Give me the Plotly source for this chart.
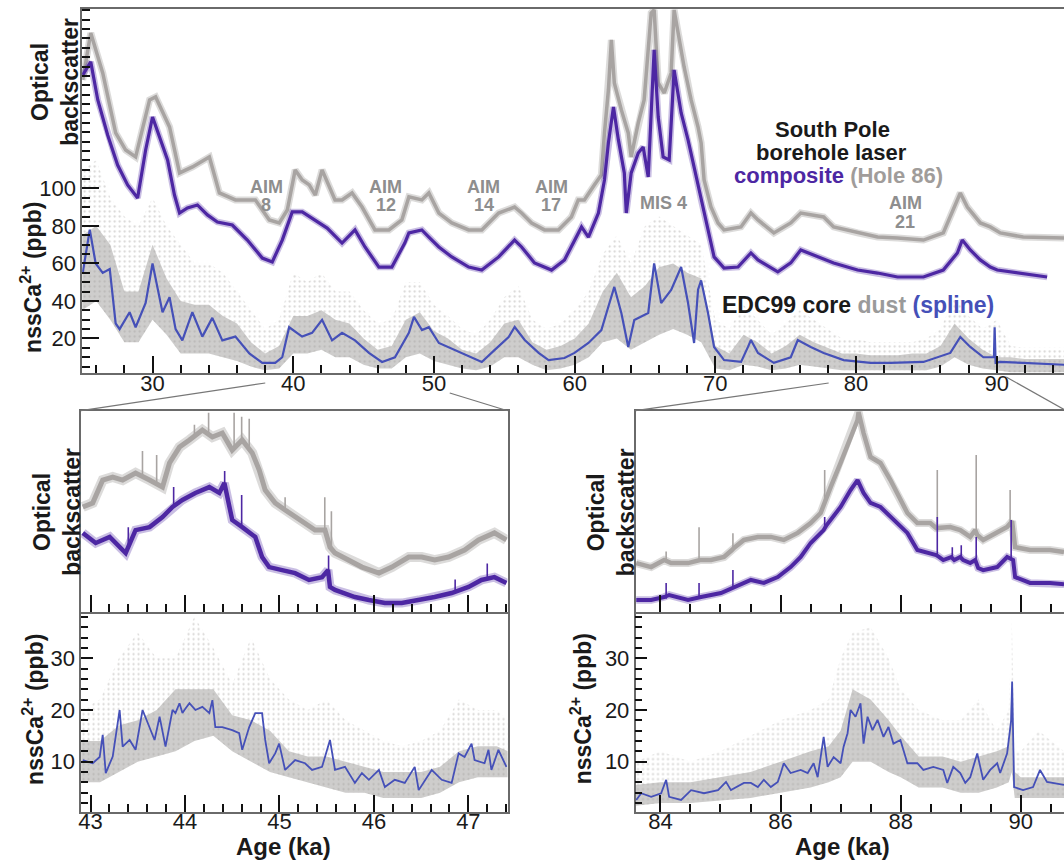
import plotly.graph_objects as go

# ======================= DATA =======================
# ---- Top panel (25-95 ka) ----
# EDC99 nssCa2+ spline (ppb)
top_spline_age = [25.04, 25.54, 25.96, 26.46, 26.96, 27.38, 27.66, 28.37, 28.80, 29.51, 30.00, 30.71, 31.21, 31.64, 32.12,
                  32.83, 33.54, 34.25, 34.96, 35.89, 36.88, 37.80, 38.72, 39.22, 39.71, 40.63, 41.34, 42.05, 42.76, 43.47,
                  44.39, 45.38, 46.31, 47.23, 48.22, 48.58, 49.15, 49.64, 50.35, 51.48, 52.69, 53.40, 54.32, 55.31, 55.74,
                  56.45, 57.44, 58.15, 59.28, 59.99, 60.98, 61.90, 62.39, 62.82, 63.32, 63.81, 64.24, 65.23, 65.65, 66.15,
                  66.86, 67.57, 68.06, 68.49, 68.77, 68.99, 69.48, 69.91, 70.62, 71.83, 72.32, 72.53, 73.03, 74.16, 75.36,
                  75.86, 76.78, 77.70, 79.12, 81.03, 82.45, 84.79, 86.70, 87.41, 88.12, 89.05, 89.80, 89.85, 89.92, 90.24,
                  91.87, 94.28, 94.80]
top_spline_ppb = [55, 78, 60, 55, 57, 28, 25, 34, 26, 39, 60, 34, 42, 25, 19,
                  34, 21, 31, 19, 21, 12, 7, 7, 10, 26, 21, 23, 30, 19, 23,
                  19, 12.3, 7.5, 10, 23, 31.5, 24.5, 26, 17.6, 13.9, 10.1, 7.5, 13.9, 20.8, 26.1,
                  19.2, 12.3, 8.5, 9.6, 12.3, 17.6, 24.5, 36.8, 47.5, 33.6, 15.5, 29.9, 33.6, 60, 38.9,
                  45.9, 58.1, 38.9, 17.6, 46, 51, 33.6, 15.5, 8.5, 7.5, 15.5, 19.2, 12.3, 7, 10,
                  19.2, 15.5, 12.3, 8.5, 7, 7, 7.5, 12.3, 20.8, 15.5, 10, 10, 26, 7, 7.5,
                  7, 6, 6]
# EDC99 dust cloud (ppb): dense band and sparse outliers
top_dust_age = list(range(25, 96))
top_dust_lo = [35, 40, 30, 18, 18, 30, 22, 12, 12, 12, 10, 8, 5, 3, 4, 12, 12, 14, 10, 10,
               6, 4, 4, 10, 12, 8, 6, 4, 3, 5, 10, 10, 6, 3, 4, 6, 10, 18, 20, 14,
               18, 22, 25, 22, 18, 4, 3, 6, 5, 3, 4, 6, 5, 4, 3, 3, 3, 3, 3, 3,
               3, 5, 10, 6, 4, 3, 2, 2, 2, 2, 2]
top_dust_hi = [75, 80, 70, 45, 45, 70, 52, 40, 38, 38, 32, 28, 18, 12, 16, 32, 32, 35, 30, 28,
               20, 14, 16, 30, 34, 24, 20, 14, 12, 18, 28, 30, 18, 14, 16, 20, 28, 45, 55, 42,
               48, 58, 60, 55, 52, 16, 12, 22, 18, 12, 16, 22, 18, 15, 12, 12, 11, 11, 11, 12,
               12, 16, 28, 20, 14, 10, 10, 9, 9, 9, 9]
top_dust_outer = [110, 115, 95, 85, 80, 95, 80, 70, 60, 60, 55, 45, 35, 25, 30, 55, 50, 55, 45, 45,
                  35, 28, 30, 50, 50, 38, 32, 25, 22, 30, 42, 48, 30, 25, 28, 35, 45, 65, 75, 60,
                  80, 85, 80, 75, 70, 30, 25, 38, 30, 22, 28, 35, 30, 25, 20, 20, 18, 18, 18, 18,
                  20, 25, 42, 32, 25, 30, 16, 15, 15, 15, 15]
# South Pole borehole laser composite (optical backscatter, arbitrary units)
top_comp_age = [25.04, 25.61, 26.11, 26.81, 27.52, 28.23, 28.94, 29.51, 30.00, 30.57, 31.07, 31.56, 31.92, 32.48, 33.19,
                33.90, 34.61, 35.67, 36.74, 37.80, 38.51, 39.22, 39.93, 40.64, 41.70, 42.41, 43.47, 44.39, 45.10, 46.09,
                47.01, 47.93, 48.22, 49.14, 49.64, 50.35, 51.27, 52.47, 53.40, 54.60, 55.73, 56.23, 57.15, 58.36, 59.28,
                59.99, 60.49, 60.98, 61.69, 62.12, 62.40, 62.76, 63.11, 63.53, 63.67, 64.02, 64.52, 64.87, 65.23, 65.65,
                65.94, 66.29, 66.72, 67.07, 67.57, 68.06, 68.49, 68.99, 69.48, 69.91, 70.62, 71.61, 72.53, 73.03, 74.44,
                75.36, 76.07, 77.28, 78.41, 80.11, 81.53, 82.95, 84.79, 86.20, 87.20, 87.55, 88.12, 88.83, 89.54, 90.04,
                91.45, 93.58]
top_comp_val = [160.5, 167.5, 147.2, 128.5, 112.5, 101.9, 94.9, 120.5, 138.1, 125.9, 115.2, 96.5, 86.9, 89.6, 91.2,
                85.9, 82.1, 80.5, 72.5, 62.9, 60.8, 72.5, 87.5, 87.5, 82.1, 78.9, 70.9, 77.9, 68.8, 58.1,
                58.1, 70.9, 76.3, 77.9, 74.1, 68.8, 63.5, 58.1, 56.5, 63.5, 72.5, 68.8, 60.3, 56.5, 61.9,
                72.5, 79.5, 74.1, 86.9, 104.5, 124.3, 143.5, 125.9, 108.3, 86.9, 108.3, 118.9, 122.1, 106.1, 173.9,
                138.1, 116.8, 115.2, 163.2, 140.3, 125.9, 111.5, 93.9, 77.9, 63.5, 57.6, 58.1, 65.6, 61.9, 55.5,
                60.3, 67.2, 63.5, 60.3, 56.5, 54.9, 52.8, 52.8, 56.5, 65.6, 72.5, 67.2, 61.9, 58.1, 56.5,
                54.9, 52.8]
# Hole 86 (optical backscatter, arbitrary units)
top_h86_age = [25.04, 25.61, 26.46, 27.38, 28.09, 28.80, 29.79, 30.22, 31.21, 31.92, 32.84, 34.04, 34.75, 35.89, 37.31,
               38.30, 39.01, 39.58, 40.14, 40.64, 41.14, 41.57, 42.05, 42.97, 43.47, 44.18, 44.89, 45.81, 46.80, 47.72,
               48.22, 49.14, 49.64, 50.35, 51.27, 52.47, 53.40, 54.60, 55.73, 56.23, 56.94, 57.86, 58.85, 59.77, 60.26,
               60.69, 61.40, 61.90, 62.12, 62.40, 62.61, 62.82, 63.32, 63.81, 64.02, 64.52, 64.94, 65.44, 65.65, 65.94,
               66.37, 66.86, 67.07, 67.36, 67.78, 68.28, 68.77, 68.99, 69.20, 69.69, 70.19, 70.62, 71.82, 72.53, 73.03,
               74.16, 75.36, 76.07, 77.70, 78.41, 80.11, 81.53, 82.95, 84.79, 86.20, 86.91, 87.41, 87.91, 88.83, 89.54,
               90.25, 91.88, 94.28, 94.78]
top_h86_val = [157.9, 182.9, 161.6, 129.6, 120.5, 116.8, 147.2, 148.8, 132.8, 108.3, 111.5, 116.8, 97.6, 93.9, 93.9,
               83.2, 81.6, 88.5, 109.9, 104.5, 101.9, 96.5, 109.9, 93.9, 93.9, 97.6, 90.1, 77.9, 77.9, 83.2,
               95.5, 93.9, 97.6, 86.9, 81.6, 77.9, 77.9, 86.9, 90.1, 86.9, 81.6, 77.9, 77.9, 84.8, 93.9,
               93.9, 101.9, 107.2, 129.6, 152.5, 179.2, 156.3, 141.9, 129.6, 116.8, 134.9, 147.2, 193.6, 195.2, 156.3,
               150.9, 161.6, 195.2, 182.9, 164.8, 147.2, 132.8, 124.3, 104.5, 90.1, 81.6, 77.9, 79.5, 86.9, 83.2,
               76.3, 81.6, 86.9, 84.8, 79.5, 76.3, 74.1, 73.6, 72.5, 76.3, 88.5, 97.6, 90.1, 81.6, 79.5,
               76.3, 74.1, 73.6, 73.6]

# ---- Bottom-left zoom (42.9-47.4 ka) ----
bl_h86_age = [42.918, 43.023, 43.129, 43.235, 43.340, 43.477, 43.625, 43.762, 43.836, 43.942,
              44.047, 44.184, 44.290, 44.395, 44.500, 44.606, 44.712, 44.786, 44.849, 44.955,
              45.060, 45.166, 45.271, 45.377, 45.482, 45.535, 45.588, 45.736, 45.873, 46.053,
              46.190, 46.369, 46.506, 46.643, 46.791, 46.960, 47.108, 47.276, 47.403]
bl_h86_val = [52.1, 54.1, 65.5, 67.0, 65.5, 69.0, 65.5, 62.0, 74.0, 81.9,
              85.4, 90.4, 86.9, 88.9, 80.4, 85.4, 79.0, 70.5, 60.5, 54.1,
              50.6, 47.1, 44.1, 40.6, 40.6, 32.1, 29.2, 25.7, 22.2, 19.2,
              22.2, 27.2, 27.2, 25.7, 27.2, 30.7, 35.7, 39.2, 35.7]
bl_comp_age = [42.918, 43.055, 43.203, 43.372, 43.477, 43.625, 43.762, 43.868, 43.973, 44.110,
               44.258, 44.364, 44.417, 44.500, 44.606, 44.744, 44.816, 44.891, 45.028, 45.166,
               45.313, 45.451, 45.514, 45.535, 45.588, 45.799, 45.947, 46.116, 46.295, 46.474,
               46.643, 46.823, 47.002, 47.139, 47.276, 47.403]
bl_comp_val = [39.2, 34.2, 37.2, 29.2, 40.6, 42.1, 47.1, 52.1, 55.6, 59.1,
               62.0, 59.1, 64.0, 45.6, 42.1, 37.2, 27.2, 22.2, 20.7, 19.2,
               15.8, 17.2, 20.7, 12.3, 10.8, 7.3, 5.8, 4.3, 4.3, 5.8,
               7.3, 9.3, 12.3, 15.8, 17.2, 14.3]
# thin spikes in the laser logs (age, base, top)
bl_h86_spk_age = [43.55, 43.70, 44.10, 44.25, 44.52, 44.60, 44.68, 45.06, 45.48, 45.55]
bl_h86_spk_base = [67, 64, 88, 88, 82, 84, 81, 50, 40, 32]
bl_h86_spk_top = [80, 78, 93, 99, 99, 97, 96, 57, 57, 50]
bl_comp_spk_age = [43.40, 43.88, 44.42, 44.60, 45.52, 46.86, 47.20]
bl_comp_spk_base = [33, 52, 63, 42, 16, 10, 16]
bl_comp_spk_top = [42, 62, 70, 58, 28, 16, 24]

bl_spline_age = [42.918, 43.023, 43.097, 43.129, 43.161, 43.235, 43.308, 43.340, 43.414, 43.477,
                 43.551, 43.625, 43.678, 43.731, 43.794, 43.868, 43.899, 43.942, 43.973, 43.994,
                 44.047, 44.110, 44.184, 44.258, 44.290, 44.321, 44.395, 44.500, 44.574, 44.606,
                 44.680, 44.744, 44.816, 44.849, 44.891, 44.955, 44.997, 45.060, 45.166, 45.271,
                 45.345, 45.451, 45.535, 45.588, 45.694, 45.799, 45.873, 45.947, 46.053, 46.116,
                 46.221, 46.327, 46.432, 46.474, 46.612, 46.718, 46.823, 46.897, 46.960, 47.034,
                 47.066, 47.171, 47.213, 47.244, 47.318, 47.403]
bl_spline_ppb = [10.3, 9.7, 10.9, 15.2, 7.8, 11.0, 20.0, 12.9, 14.2, 12.3,
                 20.0, 16.7, 14.2, 18.7, 12.9, 20.0, 19.4, 21.3, 19.4, 20.0,
                 21.3, 20.0, 20.6, 19.4, 21.9, 16.7, 16.7, 16.1, 15.5, 12.3,
                 16.7, 19.4, 19.4, 14.2, 9.7, 11.6, 13.5, 8.4, 10.3, 9.7,
                 8.4, 9.0, 14.2, 8.4, 9.0, 5.9, 7.8, 6.5, 8.4, 5.1,
                 6.5, 5.9, 9.0, 4.5, 8.4, 6.5, 5.9, 11.6, 10.9, 13.5,
                 10.3, 9.7, 12.3, 8.4, 12.3, 9.0]
bl_dust_age = [42.9, 43.1, 43.3, 43.5, 43.7, 43.9, 44.1, 44.3, 44.5, 44.7, 44.9, 45.1,
               45.3, 45.5, 45.7, 45.9, 46.1, 46.3, 46.5, 46.7, 46.9, 47.1, 47.3, 47.42]
bl_dust_lo = [6, 6, 8, 10, 11, 12, 14, 15, 12, 10, 8, 7, 6, 5, 4, 4, 3, 3, 3, 4, 6, 7, 7, 7]
bl_dust_hi = [14, 14, 17, 18, 20, 24, 24, 24, 19, 18, 16, 12, 11, 11, 10, 9, 8, 8, 8, 9, 12, 13, 13, 12]
bl_dust_outer = [20, 22, 30, 35, 30, 30, 38, 32, 25, 34, 26, 22, 20, 22, 18, 16, 14, 13, 14, 16, 22, 20, 20, 18]

# ---- Bottom-right zoom (83.6-90.7 ka) ----
br_h86_age = [83.597, 83.846, 84.062, 84.178, 84.460, 84.626, 84.659, 84.842, 85.058, 85.191,
              85.224, 85.390, 85.622, 85.838, 86.054, 86.286, 86.502, 86.668, 86.718, 86.751,
              86.834, 87.000, 87.166, 87.282, 87.299, 87.382, 87.498, 87.664, 87.830, 87.996,
              88.112, 88.278, 88.494, 88.593, 88.627, 88.826, 88.993, 89.159, 89.242, 89.275,
              89.374, 89.607, 89.773, 89.856, 89.906, 90.155, 90.487, 90.72]
br_h86_val = [24.2, 22.2, 25.7, 24.2, 24.2, 25.7, 25.7, 25.7, 27.2, 30.7,
              31.7, 35.7, 37.2, 37.2, 35.7, 39.2, 44.1, 49.1, 53.1, 55.6,
              62.0, 74.0, 86.9, 95.4, 99.4, 88.9, 77.0, 74.0, 65.5, 55.6,
              49.1, 44.1, 44.1, 41.6, 41.6, 42.1, 40.6, 37.2, 40.6, 38.2,
              35.7, 39.2, 42.1, 45.0, 32.1, 30.7, 30.7, 29.7]
br_comp_age = [83.597, 83.846, 84.062, 84.145, 84.460, 84.626, 84.676, 85.008, 85.191, 85.241,
               85.506, 85.722, 85.954, 86.168, 86.336, 86.502, 86.668, 86.718, 86.768, 86.834,
               87.000, 87.166, 87.282, 87.382, 87.498, 87.664, 87.830, 87.996, 88.112, 88.278,
               88.494, 88.593, 88.643, 88.710, 88.843, 88.893, 88.993, 89.042, 89.159, 89.242,
               89.292, 89.374, 89.607, 89.773, 89.873, 89.906, 90.155, 90.487, 90.72]
br_comp_val = [5.8, 5.8, 7.3, 8.3, 5.8, 7.3, 7.3, 9.3, 11.8, 12.3,
               15.8, 14.3, 17.2, 22.2, 27.2, 34.2, 39.2, 40.6, 43.1, 45.6,
               52.1, 60.5, 65.5, 59.1, 54.1, 52.1, 47.1, 42.1, 39.2, 30.7,
               29.2, 28.2, 27.2, 25.7, 27.2, 25.7, 27.2, 25.7, 24.2, 25.7,
               21.7, 20.7, 22.2, 27.2, 25.7, 17.2, 14.3, 14.3, 13.7]
br_h86_spk_age = [84.095, 84.643, 85.207, 86.735, 88.610, 89.258, 89.823]
br_h86_spk_base = [25, 25.7, 31, 54, 41.6, 39, 45]
br_h86_spk_top = [30, 42, 39, 70.5, 70.5, 78, 60.5]
br_comp_spk_age = [84.095, 84.643, 85.207, 86.735, 88.610, 88.860, 89.009, 89.258, 89.840]
br_comp_spk_base = [6.5, 7, 12, 42, 28, 26.5, 26.5, 24, 26]
br_comp_spk_top = [14.3, 14.3, 20.7, 47.1, 47.1, 32.1, 33.1, 37.2, 45.6]

br_spline_age = [83.597, 83.680, 83.846, 84.012, 84.095, 84.145, 84.344, 84.510, 84.726, 84.959,
                 85.092, 85.174, 85.390, 85.506, 85.622, 85.722, 85.838, 85.954, 86.004, 86.054,
                 86.168, 86.336, 86.452, 86.551, 86.618, 86.718, 86.784, 86.884, 87.000, 87.050,
                 87.116, 87.166, 87.249, 87.332, 87.382, 87.449, 87.532, 87.615, 87.714, 87.797,
                 87.880, 87.996, 88.112, 88.278, 88.378, 88.544, 88.710, 88.776, 88.876, 88.993,
                 89.076, 89.159, 89.275, 89.374, 89.491, 89.607, 89.657, 89.773, 89.840, 89.856,
                 89.889, 90.038, 90.205, 90.321, 90.437, 90.537, 90.72]
br_spline_ppb = [2.6, 3.9, 3.2, 3.9, 6.5, 3.2, 2.6, 4.5, 3.9, 4.5,
                 6.1, 4.5, 5.9, 5.9, 5.1, 6.5, 5.1, 6.1, 7.8, 9.7,
                 7.8, 8.4, 7.8, 9.7, 7.0, 14.8, 9.0, 10.9, 9.7, 12.9,
                 15.5, 20.0, 18.7, 21.3, 13.5, 18.7, 16.1, 18.1, 14.8, 16.7,
                 13.5, 14.2, 9.7, 9.7, 8.4, 9.0, 8.4, 5.9, 9.0, 7.8,
                 5.9, 7.0, 11.6, 6.5, 8.4, 9.7, 7.8, 11.6, 18.0, 25.5,
                 5.1, 4.5, 5.1, 8.4, 6.1, 5.9, 5.5]
br_dust_age = [83.585, 84.0, 84.5, 85.0, 85.5, 86.0, 86.5, 86.8, 87.0, 87.2, 87.5, 87.8,
               88.0, 88.3, 88.7, 89.0, 89.3, 89.6, 89.8, 89.85, 89.9, 90.0, 90.3, 90.72]
br_dust_lo = [1.5, 2, 2, 2.5, 3, 4, 5, 6, 7, 10, 10, 8, 7, 5, 5, 4, 4, 5, 6, 8, 3, 3, 3, 3]
br_dust_hi = [5.5, 6, 6, 7, 8, 10, 12, 13, 16, 24, 22, 18, 15, 11, 11, 10, 11, 12, 13, 25, 8, 7, 7, 7]
br_dust_outer = [10, 12, 10, 12, 15, 18, 20, 22, 30, 35, 36, 30, 24, 20, 18, 18, 22, 16, 20, 38, 12, 12, 16, 12]

top_ytick_vals = [20, 40, 60, 80, 100]

for a, b in [(top_spline_age, top_spline_ppb), (top_dust_age, top_dust_lo), (top_dust_age, top_dust_hi),
             (top_dust_age, top_dust_outer), (top_comp_age, top_comp_val), (top_h86_age, top_h86_val),
             (bl_h86_age, bl_h86_val), (bl_comp_age, bl_comp_val), (bl_spline_age, bl_spline_ppb),
             (bl_dust_age, bl_dust_lo), (bl_dust_age, bl_dust_hi), (bl_dust_age, bl_dust_outer),
             (bl_h86_spk_age, bl_h86_spk_base), (bl_h86_spk_age, bl_h86_spk_top),
             (bl_comp_spk_age, bl_comp_spk_base), (bl_comp_spk_age, bl_comp_spk_top),
             (br_h86_age, br_h86_val), (br_comp_age, br_comp_val), (br_spline_age, br_spline_ppb),
             (br_h86_spk_age, br_h86_spk_base), (br_h86_spk_age, br_h86_spk_top),
             (br_comp_spk_age, br_comp_spk_base), (br_comp_spk_age, br_comp_spk_top),
             (br_dust_age, br_dust_lo), (br_dust_age, br_dust_hi), (br_dust_age, br_dust_outer)]:
    assert len(a) == len(b), (len(a), len(b))

# ======================= STYLE =======================
W, H = 1064, 861
C_PURPLE = "#4d27a3"
C_PURPLE_HALO = "rgba(77,39,163,0.30)"
C_GRAY = "#a8a4a2"
C_GRAY_HALO = "rgba(168,164,162,0.40)"
C_BLUE = "#4550b8"
C_TXT = "#1a1a1a"
C_AXIS = "#6a6a6a"
FONT = "Liberation Sans, Arial, Helvetica, sans-serif"


def px(x):
    return x / W


def py(y):
    return 1 - y / H


fig = go.Figure()


def add_dust(ages, lo, hi, outer, xa, ya):
    fig.add_trace(go.Scatter(x=ages, y=lo, mode="lines", line=dict(width=0), hoverinfo="skip",
                             xaxis=xa, yaxis=ya, showlegend=False))
    fig.add_trace(go.Scatter(x=ages, y=outer, mode="lines", line=dict(width=0), hoverinfo="skip",
                             fill="tonexty", fillcolor="rgba(255,255,255,0)",
                             fillpattern=dict(shape=".", fgcolor="#b4b2b0", bgcolor="rgba(255,255,255,0)",
                                              size=5, solidity=0.16),
                             xaxis=xa, yaxis=ya, showlegend=False))
    fig.add_trace(go.Scatter(x=ages, y=lo, mode="lines", line=dict(width=0), hoverinfo="skip",
                             xaxis=xa, yaxis=ya, showlegend=False))
    fig.add_trace(go.Scatter(x=ages, y=hi, mode="lines", line=dict(width=0), hoverinfo="skip",
                             fill="tonexty", fillcolor="rgba(158,156,154,0.5)",
                             xaxis=xa, yaxis=ya, showlegend=False))


def add_line(ages, vals, color, width, xa, ya, halo=None, halo_width=0):
    if halo:
        fig.add_trace(go.Scatter(x=ages, y=vals, mode="lines", line=dict(color=halo, width=halo_width),
                                 hoverinfo="skip", xaxis=xa, yaxis=ya, showlegend=False))
    fig.add_trace(go.Scatter(x=ages, y=vals, mode="lines", line=dict(color=color, width=width),
                             xaxis=xa, yaxis=ya, showlegend=False))


def add_spikes(ages, base, top, color, xa, ya):
    xs, ys = [], []
    for a, b, t in zip(ages, base, top):
        xs += [a, a, None]
        ys += [b, t, None]
    fig.add_trace(go.Scatter(x=xs, y=ys, mode="lines", line=dict(color=color, width=1.6),
                             xaxis=xa, yaxis=ya, showlegend=False, connectgaps=False))


# top panel
add_dust(top_dust_age, top_dust_lo, top_dust_hi, top_dust_outer, "x", "y")
add_line(top_spline_age, top_spline_ppb, C_BLUE, 2.2, "x", "y")
add_line(top_h86_age, top_h86_val, C_GRAY, 3.5, "x", "y2", C_GRAY_HALO, 7)
add_line(top_comp_age, top_comp_val, C_PURPLE, 3.2, "x", "y2", C_PURPLE_HALO, 6.5)

# bottom-left
add_spikes(bl_h86_spk_age, bl_h86_spk_base, bl_h86_spk_top, C_GRAY, "x3", "y3")
add_line(bl_h86_age, bl_h86_val, C_GRAY, 5, "x3", "y3", C_GRAY_HALO, 10)
add_spikes(bl_comp_spk_age, bl_comp_spk_base, bl_comp_spk_top, C_PURPLE, "x3", "y3")
add_line(bl_comp_age, bl_comp_val, C_PURPLE, 4.5, "x3", "y3", C_PURPLE_HALO, 9)
add_dust(bl_dust_age, bl_dust_lo, bl_dust_hi, bl_dust_outer, "x4", "y4")
add_line(bl_spline_age, bl_spline_ppb, C_BLUE, 1.8, "x4", "y4")

# bottom-right
add_spikes(br_h86_spk_age, br_h86_spk_base, br_h86_spk_top, C_GRAY, "x5", "y5")
add_line(br_h86_age, br_h86_val, C_GRAY, 4.5, "x5", "y5", C_GRAY_HALO, 8)
add_spikes(br_comp_spk_age, br_comp_spk_base, br_comp_spk_top, C_PURPLE, "x5", "y5")
add_line(br_comp_age, br_comp_val, C_PURPLE, 4, "x5", "y5", C_PURPLE_HALO, 7.5)
add_dust(br_dust_age, br_dust_lo, br_dust_hi, br_dust_outer, "x6", "y6")
add_line(br_spline_age, br_spline_ppb, C_BLUE, 1.8, "x6", "y6")

tickfont = dict(family=FONT, size=22, color=C_TXT)
base = dict(showline=True, linecolor=C_AXIS, linewidth=1.5, showgrid=False, zeroline=False,
            tickcolor="#111", tickwidth=1.6, tickfont=tickfont, fixedrange=True)

top_dom_y = [py(373), py(9)]
up_dom_y = [py(611.7), py(410.7)]
lo_dom_y = [py(811.7), py(611.7)]
bl_dom_x = [px(78.3), px(506)]
br_dom_x = [px(634.3), 1.0]

minor_top_y = [v for v in range(5, 196, 5) if v not in top_ytick_vals]
mx = dict(ticks="inside", ticklen=8, tickcolor="#111", tickwidth=1.6)

fig.update_layout(
    width=W, height=H, margin=dict(l=0, r=0, t=0, b=0, pad=0),
    paper_bgcolor="white", plot_bgcolor="white", showlegend=False,
    xaxis=dict(domain=[px(79.4), 1.0], range=[25, 94.78], anchor="y", tick0=0, dtick=10,
               ticks="inside", ticklen=17, mirror=True, ticklabelstandoff=-10,
               minor=dict(dtick=2, tick0=0, **mx), **base),
    yaxis=dict(domain=top_dom_y, range=[1.6, 195.7], anchor="x", tickmode="array", tickvals=top_ytick_vals,
               ticks="inside", ticklen=17,
               minor=dict(tickmode="array", tickvals=minor_top_y, **mx), **base),
    yaxis2=dict(domain=top_dom_y, range=[1.6, 195.7], overlaying="y", anchor="x", visible=False, fixedrange=True),
    xaxis3=dict(domain=bl_dom_x, range=[42.9, 47.415], anchor="y3", tick0=0, dtick=1, ticks="inside", ticklen=17,
                showticklabels=False, mirror=True,
                minor=dict(dtick=0.2, tick0=0, **mx), **base),
    yaxis3=dict(domain=up_dom_y, range=[0, 100], anchor="x3", showticklabels=False, ticks="", mirror=True, **base),
    xaxis4=dict(domain=bl_dom_x, range=[42.9, 47.415], anchor="y4", tick0=0, dtick=1, ticks="inside", ticklen=17,
                ticklabelstandoff=-11,
                minor=dict(dtick=0.2, tick0=0, **mx), **base),
    yaxis4=dict(domain=lo_dom_y, range=[0.33, 39.0], anchor="x4", tick0=0, dtick=10, ticks="inside", ticklen=12,
                mirror=True,
                minor=dict(dtick=2, tick0=0, ticks="inside", ticklen=7, tickcolor="#111", tickwidth=1.6), **base),
    xaxis5=dict(domain=br_dom_x, range=[83.585, 90.72], anchor="y5", tick0=0, dtick=2, ticks="inside", ticklen=17,
                showticklabels=False, mirror=True,
                minor=dict(dtick=0.5, tick0=0, **mx), **base),
    yaxis5=dict(domain=up_dom_y, range=[0, 100], anchor="x5", showticklabels=False, ticks="", **base),
    xaxis6=dict(domain=br_dom_x, range=[83.585, 90.72], anchor="y6", tick0=0, dtick=2, ticks="inside", ticklen=17,
                ticklabelstandoff=-11,
                minor=dict(dtick=0.5, tick0=0, **mx), **base),
    yaxis6=dict(domain=lo_dom_y, range=[0.33, 39.0], anchor="x6", tick0=0, dtick=10, ticks="inside", ticklen=12,
                minor=dict(dtick=2, tick0=0, ticks="inside", ticklen=7, tickcolor="#111", tickwidth=1.6), **base),
)

# connector lines from top panel to zoom panels
for (x0, y0, x1, y1) in [(263, 383, 78.3, 410.7), (448, 393, 506, 410.7),
                         (828, 383, 634.3, 410.7), (1006, 377, 1064, 409.5)]:
    fig.add_shape(type="line", xref="paper", yref="paper", x0=px(x0), y0=py(y0), x1=px(x1), y1=py(y1),
                  line=dict(color="#777", width=1.2))


def ann(text, x, y, size=23, color=C_TXT, angle=0):
    fig.add_annotation(text=text, x=px(x), y=py(y), xref="paper", yref="paper", showarrow=False,
                       xanchor="center", yanchor="middle", textangle=angle,
                       font=dict(family=FONT, size=size, color=color))


# axis titles
ann("<b>Optical<br>backscatter</b>", 52, 82, 23, angle=-90)
ann("<b>nssCa<sup>2+</sup> (ppb)</b>", 28, 277, 23, angle=-90)
ann("<b>Optical<br>backscatter</b>", 54, 512, 23, angle=-90)
ann("<b>nssCa<sup>2+</sup> (ppb)</b>", 30, 709, 23, angle=-90)
ann("<b>Optical<br>backscatter</b>", 610, 512, 23, angle=-90)
ann("<b>nssCa<sup>2+</sup> (ppb)</b>", 580, 709, 23, angle=-90)
ann("<b>Age (ka)</b>", 281, 846, 24)
ann("<b>Age (ka)</b>", 842, 846, 24)

# legend-like labels
ann("<b>South Pole</b>", 832, 130, 22)
ann("<b>borehole laser</b>", 831, 153, 22)
ann("<b><span style='color:%s'>composite</span> <span style='color:#a09c9a'>(Hole 86)</span></b>" % C_PURPLE,
    838, 175, 22)
ann("<b>EDC99 core <span style='color:#9a9a9a'>dust</span> <span style='color:%s'>(spline)</span></b>" % C_BLUE,
    857, 305, 23)

# event labels
C_EV = "#8e8e8e"
for (t1, t2, x) in [("AIM", "8", 264), ("AIM", "12", 384), ("AIM", "14", 482), ("AIM", "17", 550)]:
    ann("<b>%s</b>" % t1, x, 187, 18, C_EV)
    ann("<b>%s</b>" % t2, x, 205, 18, C_EV)
ann("<b>MIS 4</b>", 662, 203, 18, C_EV)
ann("<b>AIM</b>", 905, 203, 18, C_EV)
ann("<b>21</b>", 905, 222, 18, C_EV)

fig.write_html("out.html")
